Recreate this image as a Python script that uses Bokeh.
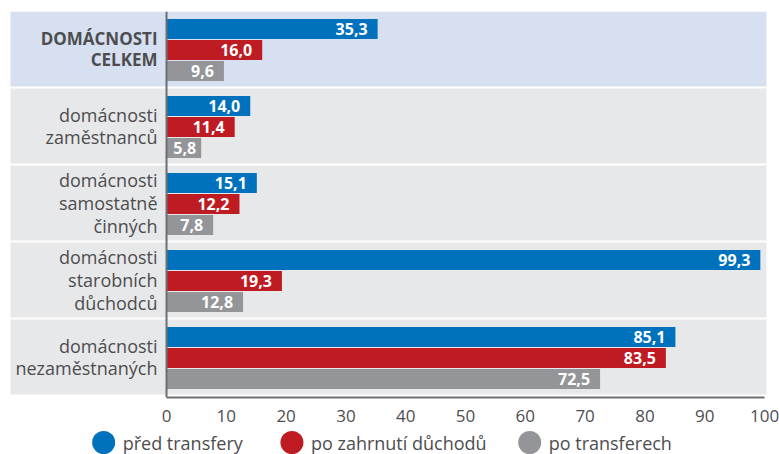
from bokeh.plotting import figure
from bokeh.models import Range1d, ColumnDataSource, FixedTicker, Span
from bokeh.layouts import column
from bokeh.core.properties import value
from bokeh.embed import file_html
from bokeh.resources import INLINE

# ---- data ----
categories = ["DOMÁCNOSTI\nCELKEM", "domácnosti\nzaměstnanců", "domácnosti\nsamostatně\nčinných",
              "domácnosti\nstarobních\ndůchodců", "domácnosti\nnezaměstnaných"]
series_names = ["před transfery", "po zahrnutí důchodů", "po transferech"]
pred_transfery = [35.3, 14.0, 15.1, 99.3, 85.1]
po_zahrnuti_duchodu = [16.0, 11.4, 12.2, 19.3, 83.5]
po_transferech = [9.6, 5.8, 7.8, 12.8, 72.5]
x_ticks = [0, 10, 20, 30, 40, 50, 60, 70, 80, 90, 100]

series_values = [pred_transfery, po_zahrnuti_duchodu, po_transferech]
colors = ["#0071BC", "#BE1B22", "#939598"]
band_colors = ["#D6E0F1", "#E7E8EA", "#E7E8EA", "#E7E8EA", "#E7E8EA"]
text_color = "#4D4D4F"
axis_color = "#6D6E71"
FONT = "Open Sans"

n = len(categories)
band_h = 0.974
bar_h = 0.26
offsets = [0.227, 0.5, 0.773]

p = figure(width=779, height=430, output_backend="svg", toolbar_location=None,
           x_range=Range1d(-26.09, 100.33), y_range=Range1d(5.013, 0),
           y_axis_location=None, min_border_left=10, min_border_right=13,
           min_border_top=11, min_border_bottom=33)
p.outline_line_color = None
p.grid.visible = False
p.background_fill_color = "white"

# background bands
idx = list(range(n))
p.quad(left=-1000, right=1000, top=idx, bottom=[i + band_h for i in idx],
       fill_color=band_colors, line_color=None)

# bars and value labels
for k, vals in enumerate(series_values):
    ys = [i + offsets[k] for i in idx]
    src = ColumnDataSource(dict(y=ys, v=vals,
                                lab=[f"{v:.1f}".replace(".", ",") for v in vals],
                                xo=[-5 if v < 7 else -10 for v in vals]))
    p.hbar(y="y", left=0, right="v", height=bar_h, source=src, fill_color=colors[k], line_color=None)
    p.text(x="v", y="y", text="lab", source=src, x_offset="xo", text_align="right",
           text_baseline="middle", text_color="white", text_font=value(FONT),
           text_font_size="16px", text_font_style="bold")

# category labels
lsrc = ColumnDataSource(dict(y=[i + 0.487 for i in idx], t=categories,
                             st=["bold"] + ["normal"] * (n - 1),
                             fs=["17px"] + ["18px"] * (n - 1)))
p.text(x=0, y="y", text="t", source=lsrc, x_offset=-9, text_align="right",
       text_baseline="middle", text_color=text_color, text_font=value(FONT),
       text_font_size="fs", text_font_style="st", text_line_height=0.95)

# vertical axis line at 0
p.add_layout(Span(location=0, dimension="height", line_color=axis_color, line_width=2))

# x axis
ax = p.xaxis[0]
ax.ticker = FixedTicker(ticks=x_ticks)
ax.bounds = (0, 100)
ax.axis_line_color = axis_color
ax.axis_line_width = 2
ax.major_tick_line_color = None
ax.minor_tick_line_color = None
ax.major_label_text_font = FONT
ax.major_label_text_font_size = "17px"
ax.major_label_text_color = text_color
ax.major_label_standoff = 6

# legend (drawn as its own strip below the chart)
leg_marker_x = [96, 290, 535]
leg = figure(width=779, height=24, output_backend="svg", toolbar_location=None,
             x_range=Range1d(0, 779), y_range=Range1d(0, 24),
             x_axis_location=None, y_axis_location=None,
             min_border_left=0, min_border_right=0, min_border_top=0, min_border_bottom=0)
leg.outline_line_color = None
leg.grid.visible = False
lg = ColumnDataSource(dict(x=leg_marker_x, y=[12] * 3, c=colors, t=series_names))
leg.scatter(x="x", y="y", size=23, marker="circle", fill_color="c", line_color=None, source=lg)
leg.text(x="x", y="y", text="t", source=lg, x_offset=19, text_align="left", text_baseline="middle",
         text_color=text_color, text_font=value(FONT), text_font_size="18px")

layout = column(p, leg, spacing=0)
open("out.html", "w").write(file_html(layout, INLINE))
